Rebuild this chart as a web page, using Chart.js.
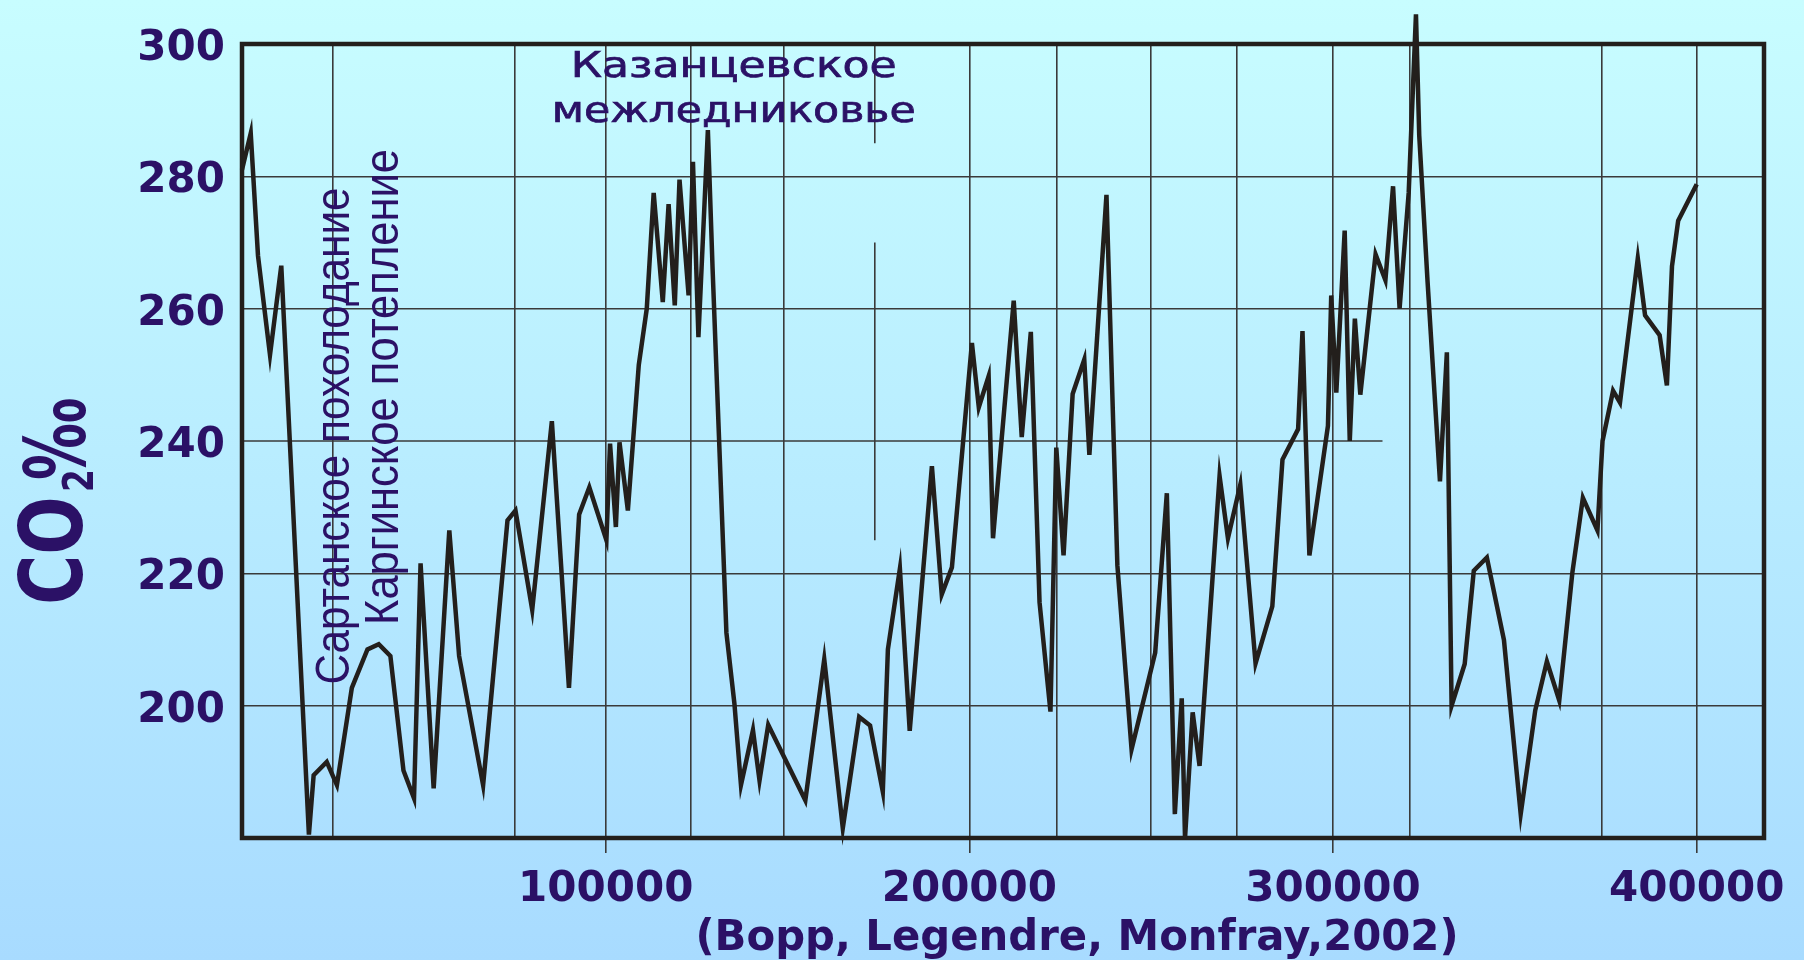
<!DOCTYPE html>
<html><head><meta charset="utf-8">
<script src="https://cdn.jsdelivr.net/npm/chart.js@4"></script>
<style>
html,body{margin:0;padding:0;width:1804px;height:960px;overflow:hidden;background:linear-gradient(180deg,#c8fdff 0%,#b8ecff 50%,#a8dbff 100%);}
#wrap{position:relative;width:1804px;height:960px;}
</style></head><body><div id="wrap"><canvas id="c" width="1804" height="960"></canvas></div>
<script>
// years before present
const years = [0, 2400, 4400, 7700, 10800, 18400, 19700, 23300, 26100, 30200, 34500, 37600, 40800, 44400, 47300, 49100, 52700, 57000, 59700, 66300, 73000, 75200, 79800, 85200, 89900, 92700, 95500, 100200, 101200, 102800, 103800, 106100, 109100, 111300, 113200, 115700, 117300, 119000, 120300, 122800, 124000, 125500, 128100, 129400, 133200, 135400, 137200, 140500, 142300, 144700, 154900, 160100, 165200, 169700, 172700, 176200, 177600, 180900, 183600, 189700, 192400, 195200, 200700, 202600, 205300, 206500, 212200, 214400, 216900, 219300, 222300, 223900, 225900, 228400, 231600, 233000, 237700, 240700, 244600, 251100, 254300, 256500, 258400, 259300, 261400, 263300, 268800, 271100, 274500, 278700, 283300, 286100, 290400, 291600, 293500, 298600, 299500, 300900, 303200, 304600, 306000, 307500, 311700, 314400, 316500, 318300, 320800, 322800, 323700, 326000, 329400, 331300, 332600, 336200, 338700, 342300, 347000, 351600, 355600, 358800, 362200, 365800, 368700, 372700, 374100, 377000, 378900, 383800, 385800, 389800, 391800, 393200, 394900, 400000];
// CO2 values
const co2 = [281, 286.5, 268, 253, 266.5, 180.5, 189.5, 191.5, 188, 202.7, 208.5, 209.3, 207.5, 190.2, 186, 221.5, 187.5, 226.5, 207.5, 188, 228, 229.5, 214.5, 243, 202.7, 228.9, 233, 225, 239.6, 227, 239.8, 229.5, 251.5, 260, 277.5, 261, 275.8, 260.5, 279.5, 262, 282.2, 255.7, 287, 266, 211, 200.3, 188, 196.3, 188.7, 197.1, 185.7, 207, 181.5, 198.3, 197, 187, 208.5, 220.7, 196.2, 236.2, 216.8, 220.9, 254.8, 245.1, 249.8, 225.3, 261.2, 240.6, 256.5, 215.6, 199.1, 239, 222.7, 247.1, 252.3, 237.9, 277.2, 221.2, 193.4, 208, 232.1, 183.6, 201.1, 180, 199, 190.9, 234.7, 225.3, 233.4, 206.4, 215, 237.2, 241.8, 256.6, 222.7, 242.3, 262, 247.3, 271.8, 240, 258.5, 247, 268.2, 264.3, 278.5, 260, 277.5, 304.5, 286.2, 264, 233.9, 253.4, 200, 206.3, 220.4, 222.4, 209.9, 183.6, 199.3, 206.7, 200.8, 220.1, 231.4, 226.5, 240, 247.6, 245.8, 267.6, 259, 256, 248.4, 266.4, 273.3, 278.8];
const xGridValues = [25000, 75000, 100000, 123500, 149000, 174000, 200000, 224000, 250000, 273500, 300000, 321000, 374000, 400000];
const xLabelValues = [100000, 200000, 300000, 400000];
const yTickValues = [200, 220, 240, 260, 280, 300];
const partialX = [{value: 174000, spans: [[300, 285], [270, 225]]}];
const partialY = [{value: 240, span: [0, 313600]}];
const yTitle = ['CO', '2', '\u2030'];
const sourceText = '(Bopp, Legendre, Monfray,2002)';
const noteTop = ['Казанцевское', 'межледниковье'];
const noteSartan = 'Сартанское похолодание';
const noteKargin = 'Каргинское потепление';

const INK = '#2b1166';
const GRID = '#3a3a3a';
const FRAME = '#231f1c';

const decor = {
  id: 'decor',
  beforeDatasetsDraw(chart) {
    const {ctx, chartArea: a, scales: {x, y}} = chart;
    ctx.save();
    ctx.strokeStyle = GRID; ctx.lineWidth = 1.6;
    partialX.forEach(p => {
      const px = x.getPixelForValue(p.value);
      p.spans.forEach(([v0, v1]) => {
        ctx.beginPath(); ctx.moveTo(px, y.getPixelForValue(v0)); ctx.lineTo(px, y.getPixelForValue(v1)); ctx.stroke();
      });
    });
    partialY.forEach(p => {
      const py = y.getPixelForValue(p.value);
      ctx.beginPath(); ctx.moveTo(x.getPixelForValue(p.span[0]), py); ctx.lineTo(x.getPixelForValue(p.span[1]), py); ctx.stroke();
    });
    ctx.strokeStyle = FRAME; ctx.lineWidth = 4.5;
    ctx.strokeRect(a.left, a.top, a.right - a.left, a.bottom - a.top);
    ctx.restore();
  },
  afterDraw(chart) {
    const {ctx, scales: {x, y}} = chart;
    ctx.save();
    ctx.fillStyle = INK; ctx.strokeStyle = INK;
    ctx.textAlign = 'left'; ctx.textBaseline = 'alphabetic';
    // y-axis title
    ctx.save();
    ctx.translate(82, 605); ctx.rotate(-Math.PI / 2);
    ctx.font = 'bold 88px "DejaVu Sans"';
    ctx.save(); ctx.scale(0.78, 1); ctx.fillText(yTitle[0], 0, 0); ctx.restore();
    ctx.font = 'bold 42px "DejaVu Sans"';
    ctx.save(); ctx.translate(113, 11); ctx.scale(0.78, 1); ctx.fillText(yTitle[1], 0, 0); ctx.restore();
    ctx.font = 'bold 84px "DejaVu Sans"';
    const wp = ctx.measureText(yTitle[2]).width;
    ctx.save(); ctx.translate(125, 3); ctx.scale(82 / wp, 1); ctx.fillText(yTitle[2], 0, 0); ctx.restore();
    ctx.restore();
    // source
    ctx.save();
    ctx.font = 'bold 42px "DejaVu Sans"';
    const ws = ctx.measureText(sourceText).width;
    ctx.translate(1077 - 763 / 2, 950); ctx.scale(763 / ws, 1);
    ctx.fillText(sourceText, 0, 0);
    ctx.restore();
    // top note, horizontally stretched
    const wide = (str, cx, base, target) => {
      ctx.save();
      ctx.font = '35px "DejaVu Sans"';
      const w = ctx.measureText(str).width;
      ctx.translate(cx - target / 2, base);
      ctx.scale(target / w, 1);
      ctx.lineWidth = 0.7;
      ctx.fillText(str, 0, 0);
      ctx.strokeText(str, 0, 0);
      ctx.restore();
    };
    wide(noteTop[0], x.getPixelForValue(135200), y.getPixelForValue(295), 326);
    wide(noteTop[1], x.getPixelForValue(135200), y.getPixelForValue(288.2), 364);
    // vertical notes
    const vtext = (str, px, py, target) => {
      ctx.save(); ctx.translate(px, py); ctx.rotate(-Math.PI / 2);
      ctx.font = '48px "Liberation Sans"';
      const w = ctx.measureText(str).width;
      ctx.scale(target / w, 1);
      ctx.fillText(str, 0, 0);
      ctx.restore();
    };
    vtext(noteSartan, x.getPixelForValue(29300), y.getPixelForValue(203.2), 497);
    vtext(noteKargin, x.getPixelForValue(43000), y.getPixelForValue(212.2), 476);
    ctx.restore();
  }
};

new Chart(document.getElementById('c'), {
  type: 'line',
  data: {
    datasets: [{
      data: years.map((v, i) => ({x: v, y: co2[i]})),
      borderColor: FRAME,
      borderWidth: 4.5,
      pointRadius: 0,
      tension: 0,
      clip: false,
      borderJoinStyle: 'miter'
    }]
  },
  options: {
    responsive: false,
    animation: false,
    devicePixelRatio: 1,
    layout: {padding: {left: 0, right: 40, top: 44, bottom: 0}},
    plugins: {legend: {display: false}, tooltip: {enabled: false}},
    scales: {
      x: {
        type: 'linear', min: 0, max: 418500,
        afterBuildTicks: s => { s.ticks = xGridValues.map(v => ({value: v})); },
        afterFit: s => { s.height = 122; s.paddingLeft = 0; s.paddingRight = 0; },
        border: {display: false},
        grid: {
          color: c => (c.tick && c.tick.value === 174000) ? 'rgba(0,0,0,0)' : GRID,
          lineWidth: 1.6,
          tickLength: 15,
          tickWidth: 1.6,
          tickColor: c => (c.tick && xLabelValues.includes(c.tick.value)) ? GRID : 'rgba(0,0,0,0)'
        },
        ticks: {
          autoSkip: false, maxRotation: 0, padding: 12, color: INK,
          font: {family: 'DejaVu Sans', size: 42, weight: 'bold'},
          callback: v => xLabelValues.includes(v) ? String(v) : ''
        }
      },
      y: {
        min: 180, max: 300,
        afterBuildTicks: s => { s.ticks = yTickValues.map(v => ({value: v})); },
        afterFit: s => { s.width = 242; s.paddingTop = 0; s.paddingBottom = 0; },
        border: {display: false},
        grid: {
          color: c => (c.tick && c.tick.value === 240) ? 'rgba(0,0,0,0)' : GRID,
          lineWidth: 1.6,
          drawTicks: false
        },
        ticks: {
          padding: 17, color: INK, labelOffset: 5,
          font: {family: 'DejaVu Sans', size: 42, weight: 'bold'},
          callback: v => String(v)
        }
      }
    }
  },
  plugins: [decor]
});
</script></body></html>
